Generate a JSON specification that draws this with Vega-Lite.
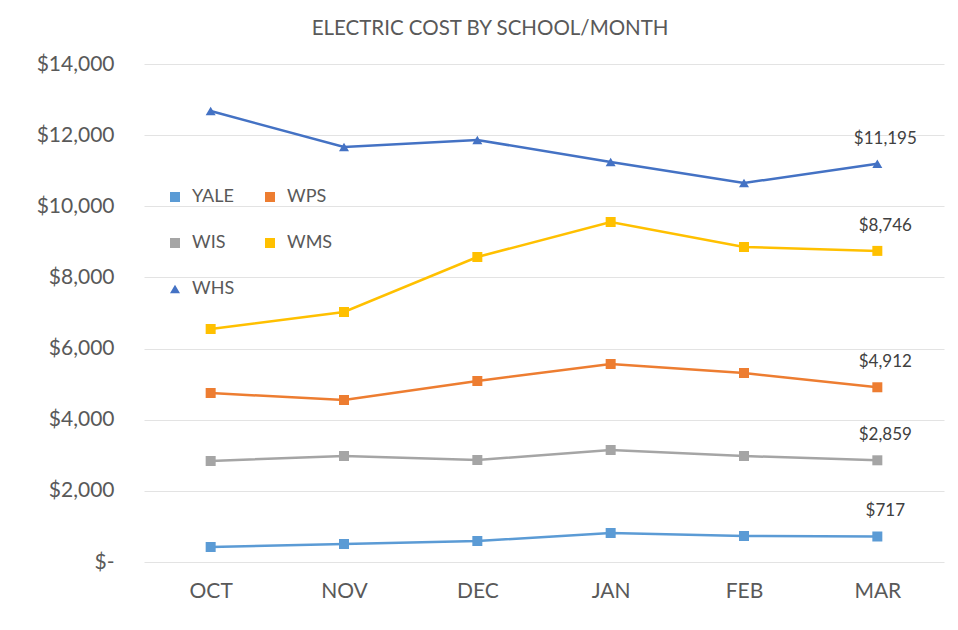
{
  "$schema": "https://vega.github.io/schema/vega-lite/v6.json",
  "width": 800,
  "height": 498,
  "autosize": {"type": "none"},
  "padding": {"left": 144, "top": 64, "right": 14, "bottom": 68},
  "background": "white",
  "title": {
    "text": "ELECTRIC COST BY SCHOOL/MONTH",
    "anchor": "middle",
    "frame": "bounds",
    "font": "Lato",
    "fontSize": 20.5,
    "fontWeight": "normal",
    "color": "#595959",
    "offset": 14
  },
  "config": {
    "font": "Lato",
    "view": {"stroke": null},
    "axis": {"labelColor": "#595959", "labelFont": "Lato"}
  },
  "data": {
    "values": [
      {"month": "OCT", "school": "YALE", "cost": 422},
      {"month": "NOV", "school": "YALE", "cost": 506},
      {"month": "DEC", "school": "YALE", "cost": 590},
      {"month": "JAN", "school": "YALE", "cost": 815},
      {"month": "FEB", "school": "YALE", "cost": 731},
      {"month": "MAR", "school": "YALE", "cost": 717},
      {"month": "OCT", "school": "WPS", "cost": 4751},
      {"month": "NOV", "school": "WPS", "cost": 4554},
      {"month": "DEC", "school": "WPS", "cost": 5089},
      {"month": "JAN", "school": "WPS", "cost": 5567},
      {"month": "FEB", "school": "WPS", "cost": 5313},
      {"month": "MAR", "school": "WPS", "cost": 4912},
      {"month": "OCT", "school": "WIS", "cost": 2840},
      {"month": "NOV", "school": "WIS", "cost": 2980},
      {"month": "DEC", "school": "WIS", "cost": 2868},
      {"month": "JAN", "school": "WIS", "cost": 3149},
      {"month": "FEB", "school": "WIS", "cost": 2980},
      {"month": "MAR", "school": "WIS", "cost": 2859},
      {"month": "OCT", "school": "WMS", "cost": 6550},
      {"month": "NOV", "school": "WMS", "cost": 7028},
      {"month": "DEC", "school": "WMS", "cost": 8575},
      {"month": "JAN", "school": "WMS", "cost": 9559},
      {"month": "FEB", "school": "WMS", "cost": 8856},
      {"month": "MAR", "school": "WMS", "cost": 8746},
      {"month": "OCT", "school": "WHS", "cost": 12679},
      {"month": "NOV", "school": "WHS", "cost": 11667},
      {"month": "DEC", "school": "WHS", "cost": 11864},
      {"month": "JAN", "school": "WHS", "cost": 11245},
      {"month": "FEB", "school": "WHS", "cost": 10655},
      {"month": "MAR", "school": "WHS", "cost": 11195}
    ]
  },
  "encoding": {
    "x": {
      "field": "month",
      "type": "ordinal",
      "sort": ["OCT", "NOV", "DEC", "JAN", "FEB", "MAR"],
      "scale": {"type": "point", "padding": 0.5},
      "axis": {
        "title": null,
        "labelAngle": 0,
        "labelFontSize": 21,
        "labelPadding": 18,
        "ticks": false,
        "domain": false,
        "grid": false
      }
    },
    "y": {
      "field": "cost",
      "type": "quantitative",
      "scale": {"domain": [0, 14000], "nice": false},
      "axis": {
        "title": null,
        "values": [0, 2000, 4000, 6000, 8000, 10000, 12000, 14000],
        "labelExpr": "datum.value == 0 ? '$-' : '$' + format(datum.value, ',')",
        "labelFontSize": 21,
        "labelPadding": 30,
        "ticks": false,
        "domain": false,
        "grid": true,
        "gridColor": "#e3e3e3",
        "gridWidth": 1.2
      }
    },
    "color": {
      "field": "school",
      "type": "nominal",
      "scale": {
        "domain": ["YALE", "WIS", "WHS", "WPS", "WMS"],
        "range": ["#5B9BD5", "#A5A5A5", "#4472C4", "#ED7D31", "#FFC000"]
      },
      "legend": {
        "title": null,
        "orient": "none",
        "legendX": 22,
        "legendY": 124,
        "columns": 2,
        "columnPadding": 26,
        "rowPadding": 28,
        "labelFontSize": 18,
        "labelColor": "#595959",
        "symbolSize": 110,
        "labelOffset": 8,
        "symbolStrokeWidth": 0
      }
    }
  },
  "layer": [
    {
      "mark": {"type": "line", "strokeWidth": 2.5},
      "encoding": {}
    },
    {
      "mark": {"type": "point", "filled": true, "opacity": 1},
      "encoding": {
        "shape": {
          "field": "school",
          "type": "nominal",
          "scale": {
            "domain": ["YALE", "WIS", "WHS", "WPS", "WMS"],
            "range": ["square", "square", "triangle-up", "square", "square"]
          },
          "legend": null
        },
        "size": {
          "field": "school",
          "type": "nominal",
          "scale": {
            "domain": ["YALE", "WIS", "WHS", "WPS", "WMS"],
            "range": [100, 100, 170, 100, 100]
          },
          "legend": null
        }
      }
    },
    {
      "transform": [{"filter": "datum.month == 'MAR'"}],
      "mark": {
        "type": "text",
        "dx": 8,
        "dy": -25,
        "fontSize": 17,
        "color": "#404040",
        "baseline": "middle"
      },
      "encoding": {
        "text": {"field": "cost", "type": "quantitative", "format": "$,.0f"},
        "color": {"value": "#404040"}
      }
    }
  ]
}
